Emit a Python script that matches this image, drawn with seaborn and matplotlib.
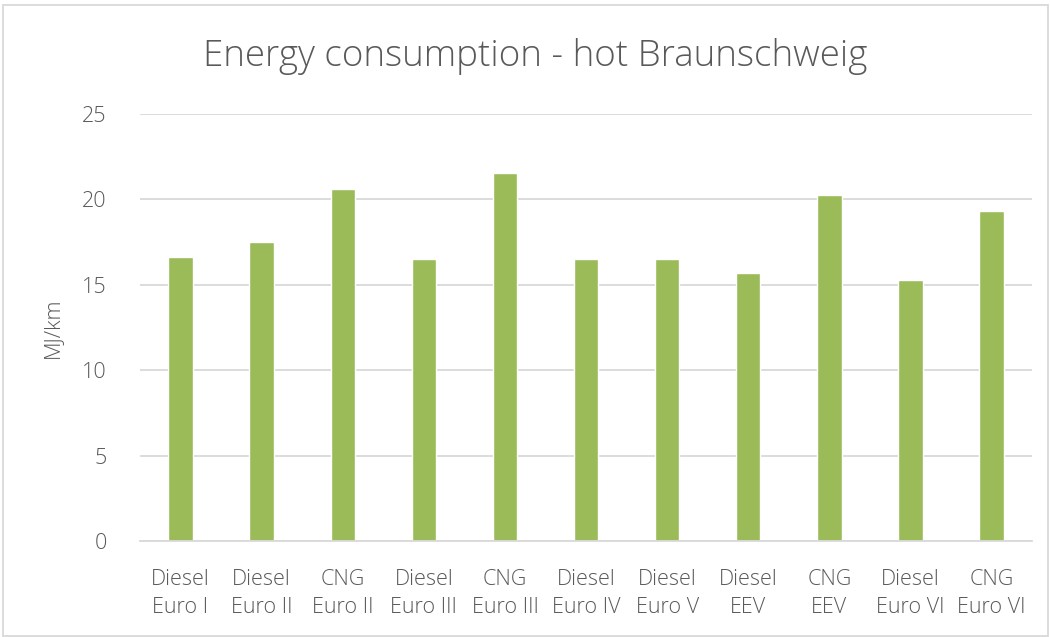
import matplotlib
matplotlib.use("Agg")
import matplotlib.pyplot as plt
import seaborn as sns
import pandas as pd
from matplotlib.patches import Rectangle

# ── Data ─────────────────────────────────────────────────────────────────────
fuels = ["Diesel", "Diesel", "CNG", "Diesel", "CNG", "Diesel", "Diesel",
         "Diesel", "CNG", "Diesel", "CNG"]
norms = ["Euro I", "Euro II", "Euro II", "Euro III", "Euro III", "Euro IV",
         "Euro V", "EEV", "EEV", "Euro VI", "Euro VI"]
energy = [16.6, 17.5, 20.6, 16.5, 21.55, 16.5, 16.5, 15.7, 20.25, 15.3, 19.3]
y_ticks = [0, 5, 10, 15, 20, 25]

labels = [f"{f}\n{n}" for f, n in zip(fuels, norms)]
df = pd.DataFrame({"vehicle": labels, "energy": energy})

# ── Style ────────────────────────────────────────────────────────────────────
sns.set_style("white")
plt.rcParams["font.family"] = ["Open Sans", "DejaVu Sans"]
txt = "#595959"
grid = "#D9D9D9"

fig = plt.figure(figsize=(10.5, 6.37), dpi=100)
ax = fig.add_axes([0.1333, 0.1507, 0.8497, 0.6703])

sns.barplot(data=df, x="vehicle", y="energy", color="#9BBB59",
            saturation=1, width=0.3, ax=ax)

ax.set_ylim(0, 25)
ax.set_yticks(y_ticks)
ax.yaxis.grid(True, color=grid, linewidth=1.3)
ax.set_axisbelow(True)
for s in ["top", "right", "left"]:
    ax.spines[s].set_visible(False)
ax.spines["bottom"].set_color(grid)
ax.spines["bottom"].set_linewidth(1.3)
ax.tick_params(axis="both", length=0, colors=txt, labelsize=15.5)
ax.tick_params(axis="x", pad=20)
ax.tick_params(axis="y", pad=24)
for t in ax.get_xticklabels():
    t.set_linespacing(1.45)
    t.set_fontweight("light")
for t in ax.get_yticklabels():
    t.set_fontweight("light")

ax.set_xlabel("")
ax.set_ylabel("MJ/km", color=txt, fontsize=15.5, labelpad=14, fontweight="light")
fig.text(0.51, 0.912, "Energy consumption - hot Braunschweig", ha="center",
         va="center", fontsize=26.5, color=txt, fontweight="light")

# chart border
fig.patches.append(Rectangle((0.003, 0.002), 0.995, 0.99, transform=fig.transFigure,
                             fill=False, edgecolor=grid, linewidth=1.3))

fig.savefig("out.png", dpi=100)
